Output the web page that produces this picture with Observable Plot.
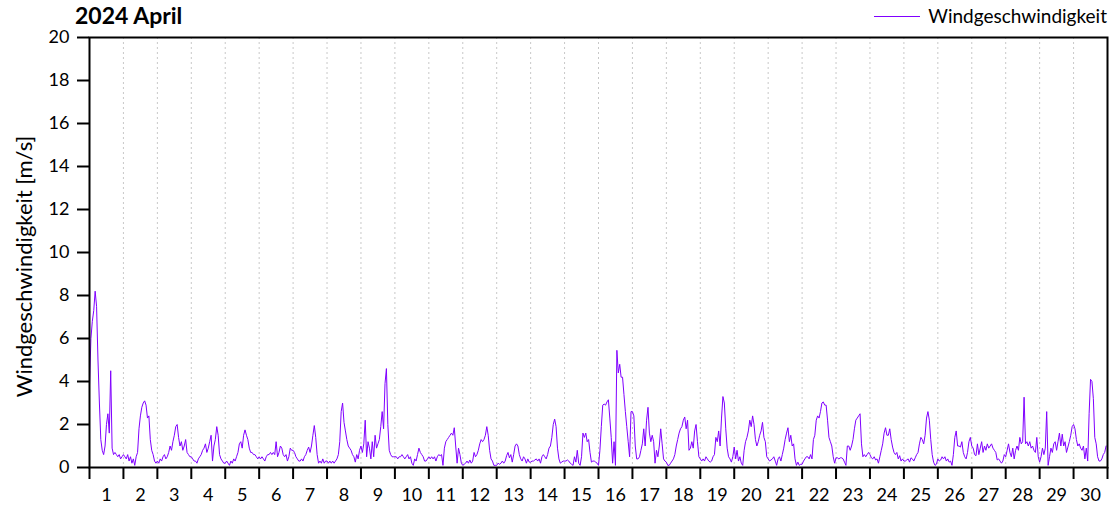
<!DOCTYPE html>
<html><head><meta charset="utf-8">
<script src="https://cdn.jsdelivr.net/npm/d3@7"></script>
<script src="https://cdn.jsdelivr.net/npm/@observablehq/plot@0.6"></script>
<style>
body{margin:0;background:#fff;font-family:Lato,"Open Sans",sans-serif;color:#000;}
#wrap{position:relative;width:1115px;}
#header{position:relative;height:22px;}
#title{position:absolute;left:75px;top:2px;font-weight:bold;font-size:23px;line-height:26px;}
#legend{position:absolute;right:8px;top:4px;font-size:19px;line-height:24px;display:flex;align-items:center;}
#legend .sw{display:inline-block;width:46px;height:0;border-top:1.3px solid #8000ff;margin-right:8px;}
</style></head>
<body>
<div id="wrap">
  <div id="header"><div id="title">2024 April</div><div id="legend"><span class="sw"></span>Windgeschwindigkeit</div></div>
  <div id="chart"></div>
</div>
<script>
const title = "2024 April";
const seriesName = "Windgeschwindigkeit";
const yLabel = "Windgeschwindigkeit [m/s]";
const dayLabels = ["1","2","3","4","5","6","7","8","9","10","11","12","13","14","15","16","17","18","19","20","21","22","23","24","25","26","27","28","29","30"];
const yTicks = [0,2,4,6,8,10,12,14,16,18,20];
// hourly wind speed (m/s), 24 values per day, April 1..30
const windSpeed = [
3.8,6.0,6.8,7.3,8.2,7.5,5.0,3.0,1.3,0.8,0.6,1.0,2.0,2.5,1.6,4.5,0.9,0.6,0.7,0.6,0.5,0.6,0.4,0.5,
0.6,0.5,0.4,0.6,0.3,0.5,0.2,0.4,0.1,0.5,0.7,1.8,2.4,2.8,3.0,3.1,2.9,2.3,2.4,1.3,0.8,0.6,0.3,0.2,
0.3,0.2,0.4,0.3,0.5,0.6,0.4,0.5,0.7,1.0,0.8,1.2,1.5,1.9,2.0,1.4,1.0,1.2,0.8,1.0,1.3,0.7,0.6,0.5,
0.5,0.4,0.3,0.3,0.2,0.4,0.5,0.6,0.8,0.9,1.1,0.7,0.9,1.2,1.5,0.3,1.0,1.3,1.9,1.5,0.6,0.4,0.3,0.2,
0.2,0.3,0.2,0.1,0.3,0.2,0.4,0.3,0.5,0.7,1.1,1.2,0.9,1.5,1.75,1.5,1.3,0.9,0.7,0.7,0.6,0.6,0.5,0.4,
0.5,0.4,0.5,0.4,0.3,0.5,0.6,0.6,0.7,0.6,0.7,0.6,1.2,0.5,0.7,1.0,0.9,0.6,0.5,0.6,0.3,0.5,0.9,0.8,
0.8,0.7,0.5,0.4,0.3,0.3,0.4,0.3,0.5,0.6,0.8,0.95,0.7,1.0,1.5,1.95,1.4,0.6,0.2,0.3,0.2,0.4,0.2,0.3,
0.3,0.2,0.3,0.2,0.3,0.2,0.3,0.4,0.6,1.2,2.6,3.0,2.1,1.7,1.3,1.0,0.9,0.8,0.6,0.5,0.25,0.6,0.4,0.8,
1.0,0.7,1.1,2.2,0.5,1.2,0.9,0.4,1.2,0.5,1.5,0.9,1.1,1.3,1.9,2.6,1.8,3.9,4.6,2.0,0.8,0.6,0.5,0.5,
0.5,0.5,0.4,0.5,0.5,0.6,0.5,0.4,0.5,0.6,0.4,0.5,0.2,0.1,0.4,0.3,0.6,0.9,0.7,0.6,0.5,0.3,0.3,0.4,
0.5,0.4,0.5,0.4,0.5,0.3,0.5,0.6,0.55,0.6,0.1,0.9,1.2,1.3,1.4,1.5,1.6,1.5,1.85,1.0,0.2,0.9,0.6,0.2,
0.1,0.15,0.2,0.3,0.2,0.35,0.2,0.3,0.7,0.5,0.6,0.8,1.1,1.3,1.2,1.3,1.5,1.9,1.5,0.8,0.4,0.3,0.1,0.1,
0.1,0.2,0.15,0.2,0.3,0.2,0.3,0.55,0.7,0.45,0.6,0.25,0.6,1.0,1.1,1.0,0.6,0.4,0.3,0.5,0.4,0.2,0.4,0.25,
0.25,0.3,0.3,0.35,0.4,0.3,0.4,0.2,0.5,0.6,0.5,0.4,0.6,0.9,1.0,1.4,2.0,2.25,1.9,0.9,0.4,0.2,0.25,0.3,
0.3,0.3,0.35,0.3,0.2,0.15,0.1,0.5,0.25,0.8,0.2,0.1,0.5,1.6,1.4,1.6,1.2,1.3,0.7,0.25,0.3,0.3,0.25,0.2,
0.1,0.8,1.9,2.9,2.95,2.9,3.05,3.15,2.3,1.4,0.2,1.2,0.1,5.45,4.4,4.8,4.2,4.2,3.4,2.6,1.9,1.2,0.5,2.6,
2.6,2.4,1.0,0.4,0.4,0.5,0.8,1.1,1.8,1.0,2.2,2.8,1.6,1.2,1.5,1.2,0.2,0.8,0.5,1.0,1.8,1.1,0.4,0.3,
0.25,0.1,0.1,0.2,0.3,0.4,0.6,1.0,1.3,1.6,1.8,1.9,2.2,2.35,1.8,2.2,0.8,0.9,1.2,0.9,1.7,2.0,1.2,0.5,
0.4,0.3,0.4,0.3,0.5,0.4,0.3,0.25,0.3,0.5,0.6,1.4,1.2,1.7,1.0,2.3,3.3,3.0,1.8,0.9,0.5,0.4,0.25,0.5,
0.95,0.4,0.8,0.3,0.5,0.2,0.1,0.8,1.2,1.4,1.7,2.2,1.9,2.4,2.0,1.3,1.0,1.2,1.5,1.7,2.1,1.4,1.2,0.5,
0.4,0.3,0.35,0.4,0.5,0.3,0.1,0.4,0.5,0.3,0.6,0.9,1.3,1.6,1.85,1.2,1.5,1.0,1.1,0.4,0.1,0.25,0.1,0.15,
0.15,0.3,0.4,0.5,0.5,0.4,0.6,0.4,1.3,1.5,2.2,2.4,2.3,2.6,3.0,3.05,2.9,2.9,2.2,1.4,1.2,1.0,0.5,0.2,
0.45,0.45,0.4,0.45,0.45,0.4,0.25,0.1,1.0,1.0,0.8,1.0,1.3,1.8,2.2,2.3,2.4,2.5,1.1,0.5,0.6,0.5,0.6,0.7,
0.6,0.45,0.4,0.5,0.35,0.4,0.2,0.5,0.8,1.1,1.6,1.85,1.5,1.5,1.8,1.3,0.95,0.7,0.6,0.7,0.4,0.55,0.3,0.4,
0.3,0.3,0.35,0.4,0.25,0.45,0.4,0.3,0.45,0.6,0.7,1.1,1.4,1.3,1.1,1.5,2.3,2.6,2.2,1.3,0.6,0.25,0.1,0.15,
0.4,0.3,0.35,0.5,0.4,0.5,0.3,0.4,0.25,0.3,0.1,0.6,1.4,1.7,1.0,1.0,0.95,1.2,0.7,0.5,0.4,0.7,1.2,1.4,
1.0,0.9,0.6,0.55,1.1,0.6,0.9,1.2,0.7,1.0,0.8,1.1,0.9,1.0,1.1,0.9,0.8,0.7,0.35,0.4,0.3,0.2,0.3,0.6,
0.5,0.8,1.1,0.7,0.5,0.9,0.4,0.8,1.0,0.8,1.4,1.1,1.2,3.27,1.1,1.2,1.0,1.2,0.9,1.0,0.8,0.7,1.4,0.5,
0.25,0.5,0.9,0.6,0.9,2.6,0.1,0.5,0.9,0.7,1.1,1.2,0.8,1.2,1.6,1.0,1.55,1.0,1.2,0.7,0.95,1.2,1.5,1.9,
2.0,1.8,1.3,1.0,1.1,0.9,0.8,1.0,0.4,0.9,0.3,2.5,4.1,4.0,3.2,1.4,1.1,0.5,0.3,0.3,0.4,0.6,0.7,1.0
];

const data = windSpeed.map((v, i) => ({hour: i, speed: v}));
const nHours = dayLabels.length * 24;
const dayBounds = d3.range(0, nHours + 1, 24);
const innerBounds = d3.range(24, nHours, 24);
const dayCenters = dayLabels.map((d, i) => i * 24 + 12);

const chart = Plot.plot({
  width: 1115,
  height: 487,
  marginTop: 15,
  marginBottom: 42,
  marginLeft: 89,
  marginRight: 8,
  style: {fontFamily: "Lato, 'Open Sans', sans-serif", fontSize: "18px", color: "#000", background: "#fff"},
  x: {domain: [0, nHours]},
  y: {domain: [0, 20]},
  marks: [
    Plot.ruleX(innerBounds, {stroke: "#c8c8c8", strokeDasharray: "2,3", strokeWidth: 1}),
    Plot.line(data, {x: "hour", y: "speed", stroke: "#8000ff", strokeWidth: 1}),
    Plot.frame({stroke: "#000", strokeWidth: 2}),
    Plot.axisX(dayBounds, {tickSize: 12, tickFormat: () => "", strokeWidth: 2, label: null}),
    Plot.axisX(dayCenters, {tickSize: 0, tickPadding: 21, tickFormat: d => dayLabels[Math.round((d - 12) / 24)], label: null}),
    Plot.axisY(yTicks, {tickSize: 12, tickPadding: 8, strokeWidth: 2, label: null}),
    Plot.text([yLabel], {frameAnchor: "left", textAnchor: "middle", dx: -65, dy: 14, rotate: -90, fontSize: 22})
  ]
});
document.getElementById("chart").appendChild(chart);
</script>
</body></html>
